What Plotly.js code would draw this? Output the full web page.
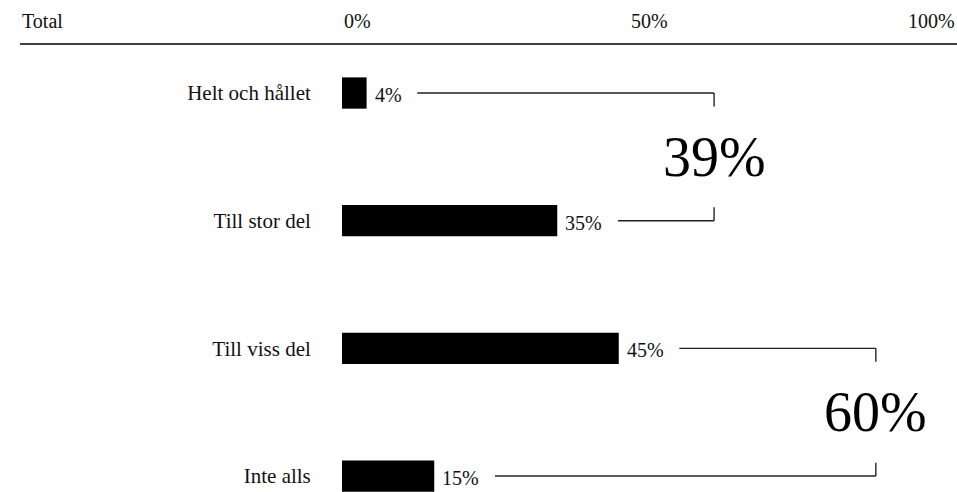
<!DOCTYPE html>
<html>
<head>
<meta charset="utf-8">
<script src="https://cdn.plot.ly/plotly-3.0.1.min.js"></script>
<style>html,body{margin:0;padding:0;background:#fff;}#chart{width:957px;height:492px;}</style>
</head>
<body>
<div id="chart"></div>
<script>
// ---- data ----
const categories = ['Helt och hållet', 'Till stor del', 'Till viss del', 'Inte alls'];
const values = [4, 35, 45, 15];
const valueLabels = ['4%', '35%', '45%', '15%'];
const groups = [[0, 1], [2, 3]];
const tickVals = [0, 50, 100];
const tickText = ['0%', '50%', '100%'];
const cornerLabel = 'Total';

// ---- layout constants ----
const W = 957, H = 492, ML = 342, MT = 44;
const plotW = W - ML;
const pxPerUnit = plotW / 100;
const FONT = "'Liberation Serif', 'Times New Roman', serif";
const LABEL_SIZE = 20, CAT_SIZE = 21, BIG_SIZE = 56;
const bracketX = [60.5, 86.8];
const tickDrop = 0.105;    // vertical bracket ends, in category units

// measure label widths so connectors start just after each label
const ctx = document.createElement('canvas').getContext('2d');
ctx.font = LABEL_SIZE + 'px ' + FONT;
const labelW = valueLabels.map(t => ctx.measureText(t).width);

const annotations = [];
const shapes = [];

shapes.push({type: 'line', xref: 'paper', yref: 'paper', x0: (20 - ML) / plotW, x1: 1, y0: 1, y1: 1,
  line: {color: '#000', width: 1.6}});

annotations.push({text: cornerLabel, xref: 'paper', yref: 'paper', x: (20 - ML) / plotW, y: 1,
  xanchor: 'left', yanchor: 'bottom', yshift: 10, showarrow: false, font: {family: FONT, size: LABEL_SIZE, color: '#111'}});

tickVals.forEach((v, i) => {
  const anchor = i === 0 ? 'left' : (i === tickVals.length - 1 ? 'right' : 'center');
  annotations.push({text: tickText[i], xref: 'x', yref: 'paper', x: v, y: 1, xanchor: anchor,
    yanchor: 'bottom', yshift: 10, showarrow: false, font: {family: FONT, size: LABEL_SIZE, color: '#111'}});
});

values.forEach((v, i) => {
  annotations.push({text: valueLabels[i], xref: 'x', yref: 'y', x: v, y: categories[i], xanchor: 'left',
    yanchor: 'middle', xshift: 6, yshift: -2, showarrow: false, font: {family: FONT, size: LABEL_SIZE, color: '#111'}});
});

const startX = i => values[i] + (8 + labelW[i] + 16) / pxPerUnit;

groups.forEach((g, gi) => {
  const [a, b] = g;
  const bx = bracketX[gi];
  const ln = {color: '#222', width: 1.4};
  shapes.push({type: 'line', xref: 'x', yref: 'y', x0: startX(a), x1: bx, y0: a, y1: a, line: ln});
  shapes.push({type: 'line', xref: 'x', yref: 'y', x0: bx, x1: bx, y0: a, y1: a + tickDrop, line: ln});
  shapes.push({type: 'line', xref: 'x', yref: 'y', x0: startX(b), x1: bx, y0: b, y1: b, line: ln});
  shapes.push({type: 'line', xref: 'x', yref: 'y', x0: bx, x1: bx, y0: b, y1: b - tickDrop, line: ln});
  const total = g.reduce((s, k) => s + values[k], 0);
  annotations.push({text: total + '%', xref: 'x', yref: 'y', x: bx, y: (a + b) / 2, xanchor: 'center',
    yanchor: 'middle', showarrow: false, font: {family: FONT, size: BIG_SIZE, color: '#000'}});
});

const trace = {
  type: 'bar', orientation: 'h',
  x: values, y: categories,
  marker: {color: '#000', line: {width: 0}},
  width: 0.245,
  hoverinfo: 'skip'
};

const layout = {
  width: W, height: H,
  margin: {l: ML, r: 0, t: MT, b: 0, pad: 0},
  paper_bgcolor: '#fff', plot_bgcolor: '#fff',
  showlegend: false,
  font: {family: FONT, color: '#111'},
  xaxis: {range: [0, 100], showgrid: false, zeroline: false, showline: false, showticklabels: false, ticks: '', fixedrange: true},
  yaxis: {type: 'category', categoryorder: 'array', categoryarray: categories,
    range: [3.125, -0.384], autorange: false,
    showgrid: false, zeroline: false, showline: false,
    ticks: 'outside', ticklen: 26, tickcolor: 'rgba(0,0,0,0)',
    tickfont: {family: FONT, size: CAT_SIZE, color: '#111'}},
  shapes: shapes,
  annotations: annotations
};

Plotly.newPlot('chart', [trace], layout, {displayModeBar: false, staticPlot: true});
</script>
</body>
</html>
